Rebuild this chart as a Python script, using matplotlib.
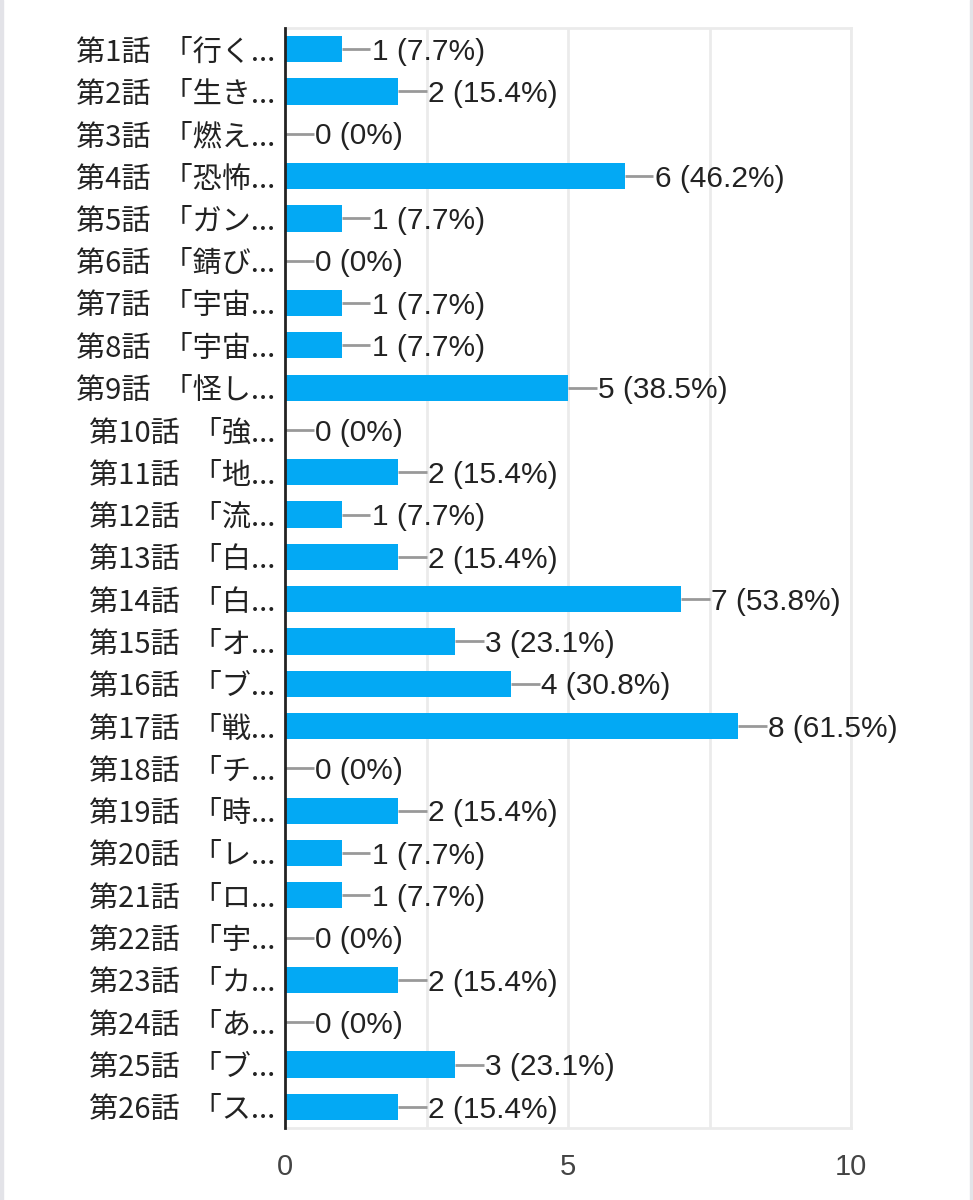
import matplotlib
matplotlib.use("Agg")
import matplotlib.pyplot as plt
from matplotlib.patches import Rectangle

episodes = [
    "第1話  「行く...", "第2話  「生き...", "第3話  「燃え...", "第4話  「恐怖...",
    "第5話  「ガン...", "第6話  「錆び...", "第7話  「宇宙...", "第8話  「宇宙...",
    "第9話  「怪し...", "第10話  「強...", "第11話  「地...", "第12話  「流...",
    "第13話  「白...", "第14話  「白...", "第15話  「オ...", "第16話  「ブ...",
    "第17話  「戦...", "第18話  「チ...", "第19話  「時...", "第20話  「レ...",
    "第21話  「ロ...", "第22話  「宇...", "第23話  「カ...", "第24話  「あ...",
    "第25話  「ブ...", "第26話  「ス...",
]
counts = [1, 2, 0, 6, 1, 0, 1, 1, 5, 0, 2, 1, 2, 7, 3, 4, 8, 0, 2, 1, 1, 0, 2, 0, 3, 2]
percents = ["7.7%", "15.4%", "0%", "46.2%", "7.7%", "0%", "7.7%", "7.7%", "38.5%", "0%",
            "15.4%", "7.7%", "15.4%", "53.8%", "23.1%", "30.8%", "61.5%", "0%", "15.4%",
            "7.7%", "7.7%", "0%", "15.4%", "0%", "23.1%", "15.4%"]
x_ticks = [0, 5, 10]
x_grid = [2.5, 5, 7.5, 10]

BAR = "#03a9f4"
jp_font = ["Noto Sans CJK JP", "DejaVu Sans"]
num_font = ["Liberation Sans", "DejaVu Sans"]
VAL_SIZE = 21.5

fig = plt.figure(figsize=(9.73, 12), dpi=100)
fig.patch.set_facecolor("white")
# thin grey page edges
fig.add_artist(Rectangle((0, 0), 3 / 973, 1, transform=fig.transFigure, color="#e3e3e8", zorder=0))
fig.add_artist(Rectangle((970 / 973, 0), 3 / 973, 1, transform=fig.transFigure, color="#e3e3e8", zorder=0))

ax = fig.add_axes([285 / 973, 1 - 1128 / 1200, 566 / 973, 1100 / 1200])

y = list(range(len(counts)))
ax.barh(y, counts, height=0.62, color=BAR, zorder=3)

for i, (c, p) in enumerate(zip(counts, percents)):
    ax.plot([c, c + 0.51], [i, i], color="#999999", lw=2, zorder=2, solid_capstyle="butt")
    # baseline placed so the digits sit centred on the bar
    ax.annotate(f"{c} ({p})", xy=(c + 0.53, i), xytext=(0, -0.358 * VAL_SIZE),
                textcoords="offset points", va="baseline", ha="left",
                fontsize=VAL_SIZE, family=num_font, color="#222222", zorder=4)

for g in x_grid:
    ax.axvline(g, color="#ebebeb", lw=2, zorder=1)

ax.set_xlim(0, 10)
ax.set_ylim(len(counts) - 0.5, -0.5)
ax.set_yticks(y)
ax.set_yticklabels(episodes, family=jp_font, fontsize=21, color="#222222")
ax.set_xticks(x_ticks)
ax.set_xticklabels([str(t) for t in x_ticks], family=num_font,
                   fontsize=21, color="#444444")
ax.tick_params(axis="both", length=0)
ax.tick_params(axis="y", pad=7)
ax.tick_params(axis="x", pad=18)

for side in ["top", "right", "bottom"]:
    ax.spines[side].set_color("#ebebeb")
    ax.spines[side].set_linewidth(2)
ax.spines["left"].set_color("#222222")
ax.spines["left"].set_linewidth(2)
ax.spines["left"].set_zorder(5)

fig.savefig("out.png", dpi=100)
